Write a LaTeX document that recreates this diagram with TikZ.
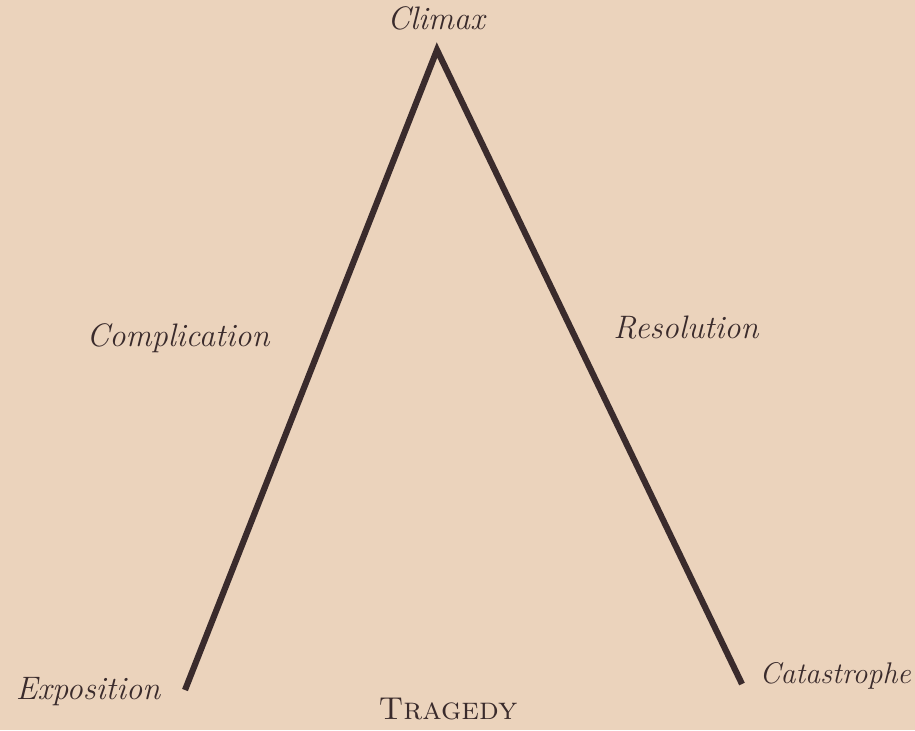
\documentclass[tikz,border=0pt]{standalone}
\usepackage{xcolor}
\definecolor{papercol}{HTML}{EBD3BC}
\definecolor{inkcol}{HTML}{3A2B2C}
\usepackage{tikz}
\usetikzlibrary{calc}

\begin{document}
\begin{tikzpicture}[x=0.02cm,y=-0.02cm]
  % ---------- paper ------------------------------------------------
  \fill[papercol] (0,0) rectangle (915,730);
  \useasboundingbox (0,0) rectangle (915,730);
  \tikzset{stage/.style={inkcol,font=\fontsize{18.5}{22}\selectfont\itshape,inner sep=1pt}}
  % ---------- the pyramid ------------------------------------------
  \coordinate (apex) at (437,50);
  \coordinate (start) at (185,690);
  \coordinate (end) at (742,684);
  \draw[inkcol,line width=3.5pt,line join=miter,line cap=butt]
      (start) -- (apex) -- (end);
  % ---------- labels -----------------------------------------------
  \node[stage] (climax) at (436,18) {Climax};
  \node[stage] (complication) at (178,338) {Complication};
  \node[stage] (resolution) at (686,328) {Resolution};
  \node[stage] (exposition) at (88,692) {Exposition};
  \node[stage,font=\fontsize{17}{20}\selectfont\itshape,anchor=east]
      (catastrophe) at (913,676) {Catastrophe};
  \node[inkcol,font=\fontsize{18}{22}\selectfont\scshape,anchor=base]
      (tragedy) at (448,719) {Tragedy};
\end{tikzpicture}
\end{document}
